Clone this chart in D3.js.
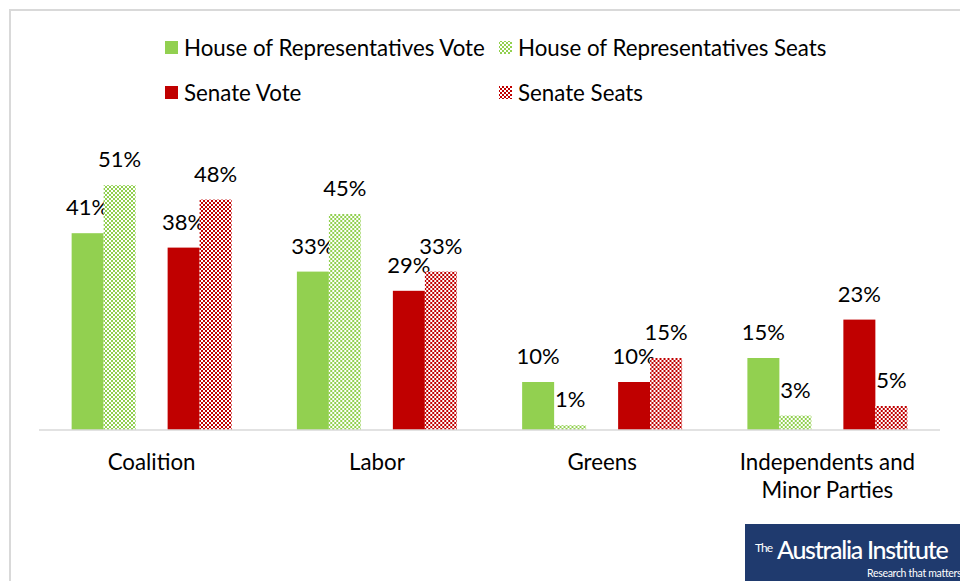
<!DOCTYPE html>
<html>
<head>
<meta charset="utf-8">
<script src="https://cdn.jsdelivr.net/npm/d3@7/dist/d3.min.js"></script>
<style>
  html, body { margin: 0; padding: 0; background: #fff; }
  svg { display: block; }
  text { font-family: Lato, "Open Sans", sans-serif; fill: #000; }
</style>
</head>
<body>
<svg id="chart" width="960" height="581"></svg>
<script>
// Vote and seat shares by party grouping (%)
const categories = ["Coalition", "Labor", "Greens", "Independents and Minor Parties"];
const houseVote  = [41, 33, 10, 15];
const houseSeats = [51, 45, 1, 3];
const senateVote = [38, 29, 10, 23];
const senateSeats = [48, 33, 15, 5];
const seriesNames = ["House of Representatives Vote", "House of Representatives Seats", "Senate Vote", "Senate Seats"];
const yTicks = [0, 10, 20, 30, 40, 50, 60];

const GREEN = "#92d050";
const RED = "#c00000";

const series = [
  { key: "houseVote",   name: seriesNames[0], values: houseVote,   fill: GREEN },
  { key: "houseSeats",  name: seriesNames[1], values: houseSeats,  fill: "url(#checkGreen)" },
  { key: "senateVote",  name: seriesNames[2], values: senateVote,  fill: RED },
  { key: "senateSeats", name: seriesNames[3], values: senateSeats, fill: "url(#checkRed)" }
];

const svg = d3.select("#chart");
const W = 960, H = 581;

// checkerboard fills for the seat series
const defs = svg.append("defs");
function checker(id, color) {
  const p = defs.append("pattern")
    .attr("id", id).attr("patternUnits", "userSpaceOnUse")
    .attr("width", 4).attr("height", 4);
  p.append("rect").attr("width", 4).attr("height", 4).attr("fill", "#fff");
  p.append("rect").attr("x", 0).attr("y", 0).attr("width", 2).attr("height", 2).attr("fill", color);
  p.append("rect").attr("x", 2).attr("y", 2).attr("width", 2).attr("height", 2).attr("fill", color);
}
checker("checkGreen", GREEN);
checker("checkRed", RED);

// chart-area frame (runs off the right and bottom edges)
svg.append("path")
  .attr("d", `M10,${H + 5} L10,10 L${W + 5},10`)
  .attr("fill", "none").attr("stroke", "#d9d9d9").attr("stroke-width", 2);

const plot = { left: 39, right: 940, bottom: 430 };

const x0 = d3.scaleBand().domain(categories).range([plot.left, plot.right]).padding(0);
const slots = ["houseVote", "houseSeats", "gap", "senateVote", "senateSeats"];
const x1 = d3.scaleBand().domain(slots).range([0, x0.bandwidth()])
  .paddingInner(0).paddingOuter(1.02);
const y = d3.scaleLinear().domain([0, d3.max(yTicks)]).range([plot.bottom, plot.bottom - 288]);

// bars
const groups = svg.append("g").selectAll("g")
  .data(categories).join("g")
  .attr("transform", d => `translate(${x0(d)},0)`);

groups.each(function (cat, ci) {
  const g = d3.select(this);
  series.forEach(s => {
    const v = s.values[ci];
    g.append("rect")
      .attr("x", x1(s.key)).attr("width", x1.bandwidth())
      .attr("y", y(v)).attr("height", y(0) - y(v))
      .attr("fill", s.fill);
    g.append("text")
      .attr("x", x1(s.key) + x1.bandwidth() / 2)
      .attr("y", y(v) - 18)
      .attr("text-anchor", "middle")
      .attr("font-size", 22)
      .text(v + "%");
  });
});

// category axis line
svg.append("line")
  .attr("x1", plot.left).attr("x2", plot.right)
  .attr("y1", plot.bottom).attr("y2", plot.bottom)
  .attr("stroke", "#d9d9d9").attr("stroke-width", 1.5);

// category labels, wrapped where long
const catLines = {
  "Independents and Minor Parties": ["Independents and", "Minor Parties"]
};
categories.forEach(c => {
  const lines = catLines[c] || [c];
  const t = svg.append("text")
    .attr("text-anchor", "middle")
    .attr("font-size", 22.3);
  lines.forEach((ln, i) => {
    t.append("tspan")
      .attr("x", x0(c) + x0.bandwidth() / 2)
      .attr("y", 470 + i * 28)
      .text(ln);
  });
});

// legend, two columns by two rows
const legendPos = [
  { x: 165, y: 48 }, { x: 499, y: 48 },
  { x: 165, y: 93 }, { x: 499, y: 93 }
];
series.forEach((s, i) => {
  const p = legendPos[i];
  svg.append("rect")
    .attr("x", p.x).attr("y", p.y - 7).attr("width", 13).attr("height", 13)
    .attr("fill", s.fill);
  svg.append("text")
    .attr("x", p.x + 19).attr("y", p.y + 8)
    .attr("font-size", 22.3)
    .text(s.name);
});

// publisher badge
const badge = svg.append("g");
badge.append("rect")
  .attr("x", 745).attr("y", 524).attr("width", 215).attr("height", 57)
  .attr("fill", "#1f3a6e");
badge.append("text")
  .attr("x", 755).attr("y", 552)
  .attr("font-size", 12).attr("font-family", "Roboto, sans-serif")
  .attr("letter-spacing", -1)
  .style("fill", "#fff")
  .text("The");
badge.append("text")
  .attr("x", 777).attr("y", 559)
  .attr("font-size", 25).attr("font-weight", 500)
  .attr("font-family", "Roboto, sans-serif")
  .attr("letter-spacing", -1.3)
  .style("fill", "#fff")
  .text("Australia Institute");
badge.append("text")
  .attr("x", 867).attr("y", 577)
  .attr("font-size", 10.5)
  .attr("font-family", "Roboto, sans-serif")
  .attr("letter-spacing", -0.3)
  .style("fill", "#fff")
  .text("Research that matters");
</script>
</body>
</html>
